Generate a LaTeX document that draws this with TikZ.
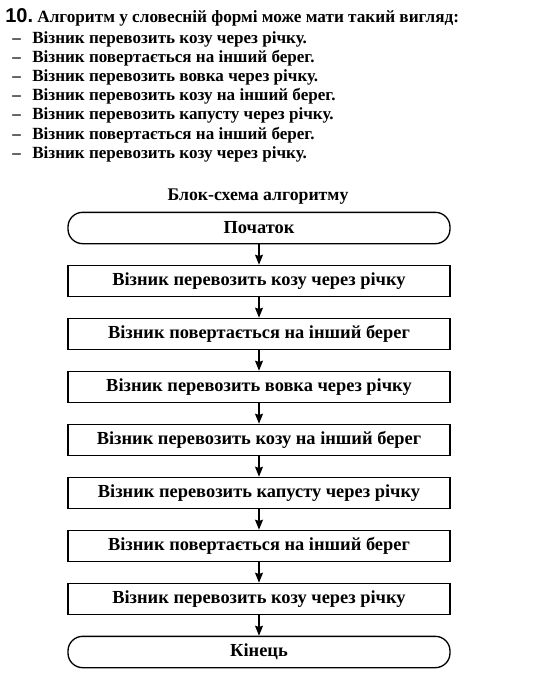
\documentclass[tikz,border=0pt]{standalone}
\usepackage{fontspec}
\setmainfont{Liberation Serif}
\setsansfont{Liberation Sans}
\usetikzlibrary{arrows.meta}
\tikzset{box/.style={draw, line width=1pt, minimum width=286.5pt, minimum height=23.5pt, inner sep=0pt, font=\fontsize{13.8}{15}\selectfont\bfseries}}
\tikzset{term/.style={box, rounded corners=11pt}}
\tikzset{item/.style={anchor=base west, inner sep=0pt, font=\fontsize{12.8}{14}\selectfont\bfseries}}
\tikzset{flow/.style={line width=1pt, -{Stealth[length=7.5pt, width=6pt, inset=1pt]}}}

\begin{document}
\begin{tikzpicture}[x=0.75pt,y=-0.75pt]
    \useasboundingbox (0,0) rectangle (559,679);
    \node[item, font=\fontsize{12.9}{14}\selectfont\bfseries] (task) at (5,22) {{\sffamily\fontsize{15}{15}\selectfont 10.}\ Алгоритм у словесній формі може мати такий вигляд:};
    \foreach \t[count=\n] in {Візник перевозить козу через річку., Візник повертається на інший берег., Візник перевозить вовка через річку., Візник перевозить козу на інший берег., Візник перевозить капусту через річку., Візник повертається на інший берег., Візник перевозить козу через річку.}{
        \node[item] (d\n) at (12,{43+19.2*(\n-1)}) {--};
        \node[item] (l\n) at (32,{43+19.2*(\n-1)}) {\t};
    }

    \node[font=\fontsize{13.3}{15}\selectfont\bfseries] (caption) at (258,197) {Блок-схема алгоритму};
    \node[term] (s0) at (259,228) {Початок};
    \foreach \t[count=\n] in {Візник перевозить козу через річку, Візник повертається на інший берег, Візник перевозить вовка через річку, Візник перевозить козу на інший берег, Візник перевозить капусту через річку, Візник повертається на інший берег, Візник перевозить козу через річку}{
        \node[box] (s\n) at (259,{228+53*\n}) {\t};
    }
    \node[term] (s8) at (259,652) {Кінець};
    \foreach \i[count=\j] in {0,...,7}
        \draw[flow] (s\i) -- (s\j);
\end{tikzpicture}
\end{document}
